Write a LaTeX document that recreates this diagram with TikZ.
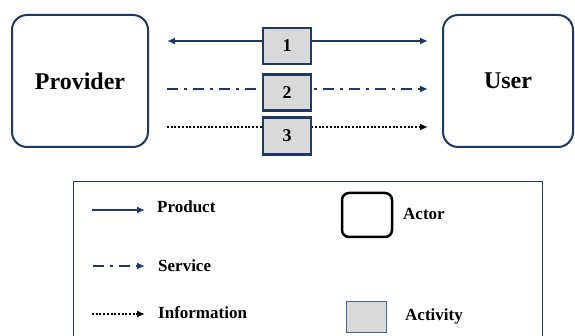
\documentclass[tikz,border=0pt]{standalone}
\usepackage{fontspec}
\setmainfont{Liberation Serif}
\usetikzlibrary{arrows.meta}
\definecolor{navy}{RGB}{31,56,100}
\definecolor{actgray}{RGB}{217,217,217}
\definecolor{legblue}{RGB}{70,100,150}
\begin{document}
\begin{tikzpicture}[x=1pt,y=-1pt,
 >={Latex[length=8pt,width=7pt]},
 actorbox/.style={draw=navy, line width=2pt, rounded corners=15pt, inner sep=0pt,
   font=\fontsize{24}{28}\selectfont\bfseries},
 activity/.style={draw=navy, line width=2.2pt, fill=actgray, minimum width=48pt,
   minimum height=36pt, inner sep=0pt, font=\fontsize{18}{20}\selectfont\bfseries},
 product/.style={draw=navy, line width=1.8pt},
 service/.style={draw=navy, line width=2.8pt, dash pattern=on 11pt off 6pt on 3pt off 6pt},
 info/.style={draw=black, line width=2.2pt, dash pattern=on 2pt off 1.7pt},
 legtext/.style={anchor=base west, inner sep=0pt, font=\fontsize{17}{20}\selectfont\bfseries}]
\useasboundingbox (0,0) rectangle (575,336);
\fill[white] (0,0) rectangle (575,336);

% actors
\node[actorbox, minimum width=136pt, minimum height=132pt] (provider) at (80,81) {Provider};
\node[actorbox, minimum width=130pt, minimum height=132pt] (user) at (508,81) {User};

% flow connectors
\coordinate (p1) at (167,41);  \coordinate (u1) at (428,41);
\coordinate (p2) at (167,89);  \coordinate (u2) at (428,89);
\coordinate (p3) at (167,127); \coordinate (u3) at (428,127);
\draw[product, <->] (p1) -- (u1);
\draw[service, ->] (p2) -- (u2);
\draw[info, ->] (p3) -- (u3);

% activities
\node[activity] (act1) at (287,46) {1};
\node[activity] (act2) at (287,92.5) {2};
\node[activity, minimum height=37pt] (act3) at (287,136) {3};

% legend
\draw[navy, line width=1pt] (73,182) rectangle (542,345);
\coordinate (lp1) at (92,210);  \coordinate (lp2) at (145,210);
\coordinate (ls1) at (93,266);  \coordinate (ls2) at (145,266);
\coordinate (li1) at (92,314);  \coordinate (li2) at (145,314);
\draw[product, line width=1.4pt, ->] (lp1) -- (lp2);
\draw[service, line width=2.8pt, dash pattern=on 11pt off 6pt on 3pt off 6pt, ->] (ls1) -- (ls2);
\draw[info, line width=2pt, ->] (li1) -- (li2);
\node[legtext] (tprod) at (157,212.5) {Product};
\node[legtext] (tserv) at (158,271.5) {Service};
\node[legtext] (tinfo) at (158,318) {Information};

\node[draw=black, line width=2.5pt, rounded corners=7pt, minimum width=50pt,
  minimum height=44pt, inner sep=0pt] (legactor) at (367,215) {};
\node[legtext] (tactor) at (403,220) {Actor};
\node[draw=legblue, line width=1pt, fill=actgray, minimum width=40pt,
  minimum height=30pt, inner sep=0pt] (legact) at (366,317) {};
\node[legtext] (tact) at (405,320) {Activity};
\end{tikzpicture}
\end{document}
